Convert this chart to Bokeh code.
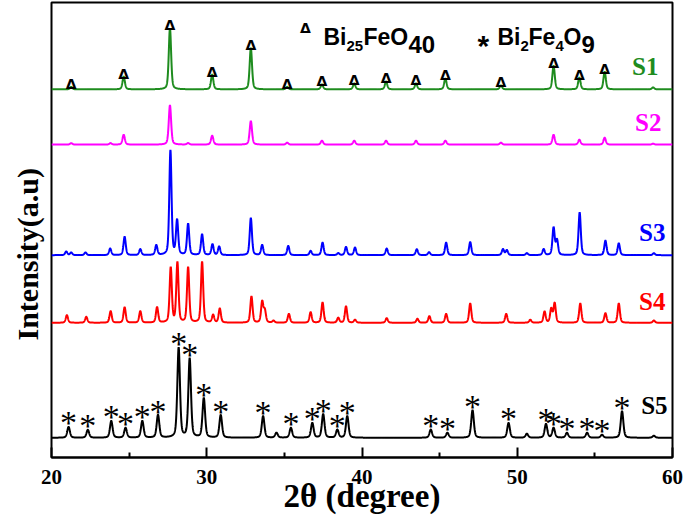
import numpy as np
from bokeh.plotting import figure
from bokeh.models import FixedTicker, Title, Range1d
from bokeh.core.properties import value
from bokeh.embed import file_html
from bokeh.resources import INLINE

# ---------------- data ----------------
x_ticks = [20, 30, 40, 50, 60]
x_minor_ticks = [25, 35, 45, 55]

samples = ["S1", "S2", "S3", "S4", "S5"]
colors = ["#1E8C1E", "#FF00FF", "#0000FF", "#FF0000", "#000000"]
baselines = [353, 297, 185, 116.5, 0]

s1_pos = [21.27, 24.65, 27.63, 30.35, 32.84, 35.18, 37.42, 39.50, 41.55, 43.48,
          45.37, 48.95, 52.34, 54.00, 55.63, 58.75]
s1_int = [2.5, 13, 62, 15, 42, 2.5, 5, 6, 8, 6, 11, 4, 24, 12, 18, 2]

s2_pos = [21.27, 23.80, 24.65, 27.63, 28.80, 30.35, 32.84, 35.18, 37.42, 39.50,
          41.55, 43.48, 45.37, 48.95, 52.34, 54.00, 55.63, 58.75]
s2_int = [1.5, 1.5, 10, 40, 1.5, 9, 24, 2, 4, 4, 4, 4, 4, 2, 10, 5, 7, 1]

s3_pos = [20.95, 21.27, 22.19, 23.78, 24.71, 25.72, 26.75, 27.66, 28.09, 28.80,
          29.70, 30.37, 30.80, 32.84, 33.57, 35.25, 36.69, 37.46, 38.47, 38.97,
          39.55, 41.59, 43.53, 44.32, 45.42, 46.97, 49.08, 49.33, 50.62, 51.70,
          52.34, 52.56, 54.02, 55.68, 56.54, 58.80]
s3_int = [3.7, 2.7, 2.7, 6.7, 18.7, 6, 10, 106, 35, 31.7,
          21, 11, 8.7, 37.7, 10.3, 9.3, 4.3, 12.7, 2, 8.3,
          7.7, 6.7, 6, 3, 12.7, 13.3, 6, 5, 2, 6,
          27.7, 15, 43.3, 14.7, 12, 2]

s4_pos = [20.99, 22.24, 23.81, 24.71, 25.72, 26.80, 27.68, 28.11, 28.80, 29.70,
          30.41, 30.84, 32.88, 33.57, 33.74, 34.30, 35.29, 36.69, 37.46, 38.47,
          38.97, 39.55, 41.59, 43.57, 44.34, 45.42, 46.97, 49.29, 50.84, 51.76,
          52.19, 52.41, 54.06, 55.68, 56.54, 58.80]
s4_int = [7.7, 6, 11.7, 15.7, 11.7, 15.7, 55.7, 60.7, 56, 61.7,
          7.7, 14.3, 26.7, 21, 12, 2, 9, 10.7, 20.7, 5,
          16.7, 3, 4.7, 4, 6.7, 9, 19.7, 9, 3, 11.3,
          14, 19.7, 19.7, 9.7, 19.7, 2.3]

s5_pos = [21.10, 22.34, 23.85, 24.77, 25.85, 26.86, 28.19, 28.90, 29.81, 30.90,
          33.63, 34.49, 35.42, 36.80, 37.50, 38.41, 39.05, 44.43, 45.50, 47.12,
          49.44, 50.62, 51.85, 52.34, 53.20, 54.50, 55.46, 56.75, 58.80]
s5_int = [11, 8, 17, 10, 17, 23, 91, 80, 40, 23,
          22, 5, 10, 15, 24, 8, 22, 8.3, 5, 28,
          15, 4, 14, 10, 5, 5, 3, 27, 2]

# peaks marked with a triangle (Bi25FeO40) in S1 and with a star (Bi2Fe4O9) in S5
tri_idx = list(range(15))
star_idx = [0, 1, 2, 3, 4, 5, 6, 7, 8, 9, 10, 12, 13, 14, 15, 16, 17, 18, 19, 20,
            22, 23, 24, 25, 26, 27]

label_x = [59.10, 59.29, 59.55, 59.55, 59.68]
label_y = [376, 319, 208, 138, 33]

x_title = "2θ (degree)"
y_title = "Intensity(a.u)"

peak_lists = [(s1_pos, s1_int), (s2_pos, s2_int), (s3_pos, s3_int),
              (s4_pos, s4_int), (s5_pos, s5_int)]
fwhms = [0.18, 0.18, 0.17, 0.17, 0.2]

# ---------------- figure ----------------
W, H = 684, 516
p = figure(width=W, height=H, output_backend="svg", toolbar_location=None,
           x_range=Range1d(20, 60), y_range=Range1d(-20, 441),
           y_axis_location=None, min_border_left=51, min_border_right=12,
           min_border_top=2, min_border_bottom=0)
p.xgrid.visible = False
p.ygrid.visible = False
p.outline_line_color = "black"
p.outline_line_width = 2
p.background_fill_color = "white"
p.border_fill_color = "white"

theta = np.linspace(20, 60, 4001)


def profile(pos, ints, w):
    y = np.zeros_like(theta)
    for c, h in zip(pos, ints):
        d = (theta - c) / w
        g = np.exp(-4 * np.log(2) * d ** 2)
        l = 1.0 / (1 + 4 * d ** 2)
        y += h * (0.6 * g + 0.4 * l)
    return y


for (pos, ints), base, col, w in zip(peak_lists, baselines, colors, fwhms):
    p.line(theta, base + profile(pos, ints, w), line_color=col, line_width=2)

# sample labels
for s, col, lx, ly in zip(samples, colors, label_x, label_y):
    p.text(x=[lx], y=[ly], text=[s], text_color=col, text_align="right",
           text_baseline="middle", text_font=value("Liberation Serif"),
           text_font_style="bold", text_font_size="25px")

# triangles above S1 peaks
s1_tops = [baselines[0] + s1_int[i] for i in tri_idx]
p.text(x=[s1_pos[i] for i in tri_idx], y=s1_tops, text=["Δ"] * len(tri_idx),
       text_align="center", text_baseline="alphabetic", y_offset=-3,
       text_font=value("DejaVu Sans"), text_font_style="bold",
       text_font_size="14px", text_color="black")

# stars above S5 peaks
s5_tops = [baselines[4] + s5_int[i] for i in star_idx]
p.text(x=[s5_pos[i] for i in star_idx], y=s5_tops, text=["*"] * len(star_idx),
       text_align="center", text_baseline="alphabetic", y_offset=-4,
       text_font=value("Liberation Serif"), text_font_size="34px", text_color="black")

# legend text: "Δ Bi25FeO40    * Bi2Fe4O9"  (anchor + pixel offsets)
leg_x = 37.52
parts = [
    ("Δ", -18, 415, "14px", "center", "middle", "bold", "DejaVu Sans", 0),
    ("Bi", 0, 406, "23px", "left", "alphabetic", "bold", "Liberation Sans", 0),
    ("25", 23, 406, "15px", "left", "alphabetic", "bold", "Liberation Sans", 9),
    ("FeO", 40, 406, "23px", "left", "alphabetic", "bold", "Liberation Sans", 0),
    ("40", 85, 406, "24px", "left", "alphabetic", "bold", "Liberation Sans", 7),
    ("*", 154, 406, "30px", "left", "alphabetic", "bold", "Liberation Sans", 8),
    ("Bi", 174, 406, "23px", "left", "alphabetic", "bold", "Liberation Sans", 0),
    ("2", 197, 406, "15px", "left", "alphabetic", "bold", "Liberation Sans", 9),
    ("Fe", 205, 406, "23px", "left", "alphabetic", "bold", "Liberation Sans", 0),
    ("4", 232, 406, "15px", "left", "alphabetic", "bold", "Liberation Sans", 9),
    ("O", 240, 406, "23px", "left", "alphabetic", "bold", "Liberation Sans", 0),
    ("9", 258, 406, "24px", "left", "alphabetic", "bold", "Liberation Sans", 7),
]
for t, xo, y, fs, al, bl, st, fn, yo in parts:
    p.text(x=[leg_x], y=[y], text=[t], x_offset=xo, y_offset=yo,
           text_align=al, text_baseline=bl,
           text_font=value(fn), text_font_style=st, text_font_size=fs,
           text_color="black")

# x axis
ax = p.xaxis[0]
ax.ticker = FixedTicker(ticks=x_ticks, minor_ticks=x_minor_ticks)
ax.major_tick_in = 10
ax.major_tick_out = 0
ax.minor_tick_in = 5
ax.minor_tick_out = 0
ax.major_tick_line_width = 2
ax.minor_tick_line_width = 2
ax.axis_line_width = 2
ax.major_label_standoff = 12
ax.major_label_text_font = "Liberation Serif"
ax.major_label_text_font_style = "bold"
ax.major_label_text_font_size = "21px"
ax.major_label_text_color = "black"
ax.axis_label = x_title
ax.axis_label_standoff = -9
ax.axis_label_text_font = "Liberation Serif"
ax.axis_label_text_font_style = "bold"
ax.axis_label_text_font_size = "33px"
ax.axis_label_text_color = "black"
ax.axis_label_text_line_height = 0.8

# y axis title (a side title, so it can be shifted along the axis)
yt = Title(text=y_title, align="left", offset=117, vertical_align="top",
           standoff=12, text_font="Liberation Serif", text_font_style="bold",
           text_font_size="30px", text_color="black")
p.add_layout(yt, "left")

open("out.html", "w").write(file_html(p, INLINE))
